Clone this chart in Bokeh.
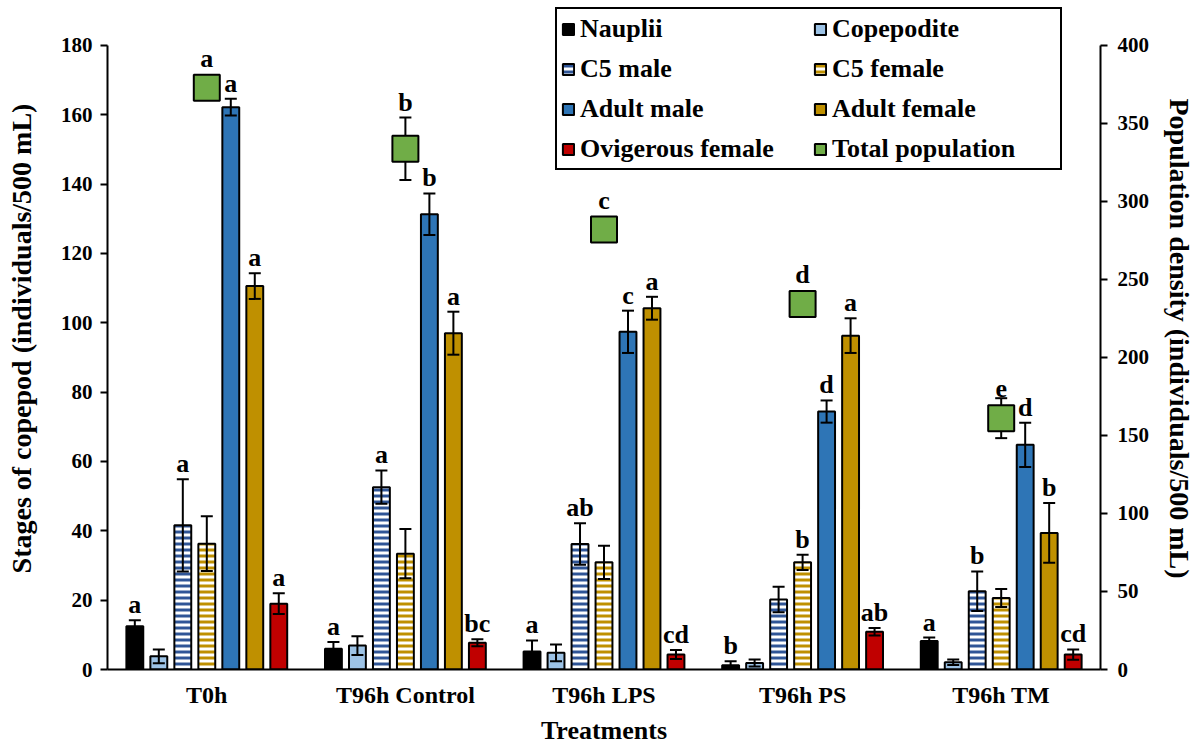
from bokeh.plotting import figure
from bokeh.models import FactorRange, Range1d, LinearAxis, ColumnDataSource, Legend, LegendItem, FixedTicker
from bokeh.transform import dodge
from bokeh.core.properties import value
from bokeh.embed import file_html
from bokeh.resources import INLINE

treatments = ["T0h", "T96h Control", "T96h LPS", "T96h PS", "T96h TM"]

nauplii = [12.5, 6.0, 5.2, 1.2, 8.2]
nauplii_err = [1.7, 1.9, 3.2, 1.2, 1.0]
nauplii_let = ["a", "a", "a", "b", "a"]

copepodite = [3.8, 6.9, 4.8, 1.9, 2.1]
copepodite_err = [2.0, 2.7, 2.4, 1.0, 0.8]
copepodite_let = ["", "", "", "", ""]

c5_male = [41.6, 52.6, 36.2, 20.2, 22.6]
c5_male_err = [13.3, 4.8, 6.0, 3.7, 5.7]
c5_male_let = ["a", "a", "ab", "", "b"]

c5_female = [36.3, 33.4, 30.9, 30.9, 20.6]
c5_female_err = [7.9, 7.1, 4.8, 2.2, 2.6]
c5_female_let = ["", "", "", "b", ""]

adult_male = [162.2, 131.3, 97.4, 74.4, 64.8]
adult_male_err = [2.4, 6.0, 6.1, 3.2, 6.4]
adult_male_let = ["a", "b", "c", "d", "d"]

adult_female = [110.6, 97.0, 104.2, 96.3, 39.4]
adult_female_err = [3.7, 6.2, 3.3, 5.0, 8.6]
adult_female_let = ["a", "a", "a", "a", "b"]

ovigerous = [19.0, 7.7, 4.3, 10.9, 4.3]
ovigerous_err = [3.0, 1.0, 1.3, 1.1, 1.5]
ovigerous_let = ["a", "bc", "cd", "ab", "cd"]

total_pop = [372.9, 333.8, 282.0, 234.2, 161.1]
total_pop_err = [0.0, 20.0, 0.0, 0.0, 12.8]
total_pop_let = ["a", "b", "c", "d", "e"]

left_ticks = [0, 20, 40, 60, 80, 100, 120, 140, 160, 180]
right_ticks = [0, 50, 100, 150, 200, 250, 300, 350, 400]

FONT = "'Liberation Serif', 'Times New Roman', serif"

# frame extends 38px above the axis top so the legend is not clipped
AXIS_PX = 625.0
EXTRA_PX = 38.0
ext = (AXIS_PX + EXTRA_PX) / AXIS_PX

p = figure(x_range=FactorRange(*treatments), y_range=Range1d(0, left_ticks[-1] * ext),
           width=1200, height=747, output_backend="svg", toolbar_location=None,
           min_border_left=107, min_border_right=100, min_border_top=7, min_border_bottom=77)
p.extra_y_ranges = {"pop": Range1d(0, right_ticks[-1] * ext)}
p.outline_line_color = None
p.grid.visible = False
p.x_range.range_padding = 0.0

series = [
    ("Nauplii", nauplii, nauplii_err, nauplii_let, dict(fill_color="#000000")),
    ("Copepodite", copepodite, copepodite_err, copepodite_let, dict(fill_color="#9DC3E6")),
    ("C5 male", c5_male, c5_male_err, c5_male_let,
     dict(fill_color="white", hatch_pattern="horizontal_line", hatch_color="#2F5597", hatch_scale=6, hatch_weight=3)),
    ("C5 female", c5_female, c5_female_err, c5_female_let,
     dict(fill_color="white", hatch_pattern="horizontal_line", hatch_color="#BF9000", hatch_scale=6, hatch_weight=3)),
    ("Adult male", adult_male, adult_male_err, adult_male_let, dict(fill_color="#2E75B6")),
    ("Adult female", adult_female, adult_female_err, adult_female_let, dict(fill_color="#BF9000")),
    ("Ovigerous female", ovigerous, ovigerous_err, ovigerous_let, dict(fill_color="#C00000")),
]

step = 0.1208
bar_w = 0.085
renderers = {}
for i, (name, vals, errs, lets, style) in enumerate(series):
    off = (i - 3) * step
    src = ColumnDataSource(dict(x=treatments, top=vals,
                                lo=[v - e for v, e in zip(vals, errs)],
                                hi=[v + e for v, e in zip(vals, errs)],
                                let=lets))
    xd = dodge("x", off, range=p.x_range)
    r = p.vbar(x=xd, top="top", width=bar_w, source=src, line_color="black", line_width=2, **style)
    renderers[name] = r
    p.segment(x0=xd, y0="lo", x1=xd, y1="hi", source=src, line_color="black", line_width=2)
    p.scatter(x=xd, y="hi", marker="dash", size=12, source=src, line_color="black", line_width=2)
    p.scatter(x=xd, y="lo", marker="dash", size=12, source=src, line_color="black", line_width=2)
    p.text(x=xd, y="hi", text="let", source=src, text_align="center", text_baseline="bottom",
           y_offset=-1, text_font=value(FONT), text_font_style="bold", text_font_size="26px",
           text_color="black")

# total population on secondary axis
tsrc = ColumnDataSource(dict(x=treatments, v=total_pop,
                             lo=[v - e for v, e in zip(total_pop, total_pop_err)],
                             hi=[v + e for v, e in zip(total_pop, total_pop_err)],
                             let=total_pop_let,
                             yoff=[-15 if e == 0 else -1 for e in total_pop_err]))
p.segment(x0="x", y0="lo", x1="x", y1="hi", source=tsrc, line_color="black", line_width=2, y_range_name="pop")
p.scatter(x="x", y="hi", marker="dash", size=12, source=tsrc, line_color="black", line_width=2, y_range_name="pop")
p.scatter(x="x", y="lo", marker="dash", size=12, source=tsrc, line_color="black", line_width=2, y_range_name="pop")
rt = p.rect(x="x", y="v", width=26, height=26, width_units="screen", height_units="screen",
            source=tsrc, fill_color="#70AD47", line_color="black", line_width=2, y_range_name="pop")
renderers["Total population"] = rt
p.text(x="x", y="hi", text="let", source=tsrc, text_align="center", text_baseline="bottom",
       y_offset="yoff", text_font=value(FONT), text_font_style="bold", text_font_size="26px",
       text_color="black", y_range_name="pop")

def style_axis(ax, tick_size, title_size):
    ax.axis_line_color = "black"
    ax.axis_line_width = 2
    ax.major_tick_line_color = "black"
    ax.major_tick_line_width = 2
    ax.major_tick_out = 7
    ax.major_tick_in = 0
    ax.minor_tick_line_color = None
    ax.major_label_text_font = FONT
    ax.major_label_text_font_style = "bold"
    ax.major_label_text_font_size = tick_size
    ax.major_label_text_color = "black"
    ax.axis_label_text_font = FONT
    ax.axis_label_text_font_style = "bold"
    ax.axis_label_text_font_size = title_size
    ax.axis_label_text_color = "black"

yax = p.yaxis[0]
style_axis(yax, "21px", "28px")
yax.ticker = FixedTicker(ticks=left_ticks)
yax.bounds = (left_ticks[0], left_ticks[-1])
yax.axis_label = "Stages of copepod (individuals/500 mL)"
yax.major_label_standoff = 8
yax.axis_label_standoff = 21

rax = LinearAxis(y_range_name="pop", axis_label="Population density (individuals/500 mL)")
style_axis(rax, "21px", "28px")
rax.ticker = FixedTicker(ticks=right_ticks)
rax.bounds = (right_ticks[0], right_ticks[-1])
rax.major_label_standoff = 10
rax.axis_label_standoff = 12
p.add_layout(rax, "right")

xax = p.xaxis[0]
style_axis(xax, "24px", "26px")
xax.major_tick_line_color = None
xax.major_tick_out = 0
xax.axis_label = "Treatments"
xax.major_label_standoff = 12
xax.axis_label_standoff = 5

order = ["Nauplii", "Copepodite", "C5 male", "C5 female", "Adult male", "Adult female",
         "Ovigerous female", "Total population"]
legend = Legend(items=[LegendItem(label=n, renderers=[renderers[n]]) for n in order],
                ncols=2, location=(448, 499), orientation="horizontal")
legend.label_text_font = FONT
legend.label_text_font_style = "bold"
legend.label_text_font_size = "26px"
legend.label_text_color = "black"
legend.glyph_width = 14
legend.glyph_height = 14
legend.label_height = 31
legend.label_width = 224
legend.label_standoff = 5
legend.spacing = 9
legend.padding = 4
legend.border_line_color = "black"
legend.border_line_width = 2
legend.border_line_alpha = 1.0
legend.background_fill_color = "white"
legend.background_fill_alpha = 1.0
p.add_layout(legend)

open("out.html", "w").write(file_html(p, INLINE))
